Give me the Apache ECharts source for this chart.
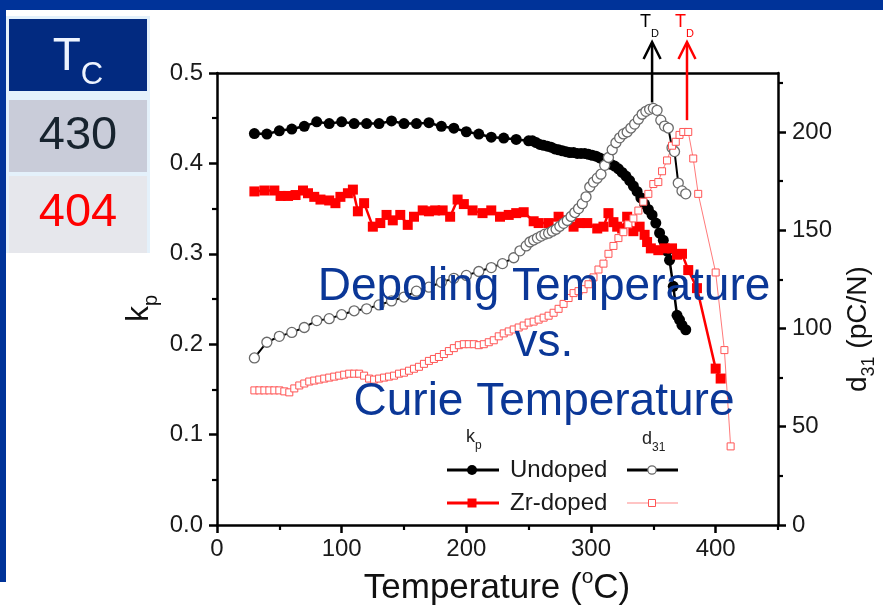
<!DOCTYPE html>
<html>
<head>
<meta charset="utf-8">
<script src="https://cdn.jsdelivr.net/npm/echarts@6/dist/echarts.min.js"></script>
<style>
  html, body { margin: 0; padding: 0; background: #fff; }
  #chart { width: 883px; height: 608px; }
</style>
</head>
<body>
<div id="chart"></div>
<script>
// ---- data: temperature (°C) against kp and d31 ----
const undopedKpT = [30,40,50,60,70,80,90,100,110,120,130,140,150,160,170,180,190,200,210,220,230,240,250,
  253,256,259,262,265,268,271,274,277,280,283,286,289,292,295,298,301,304,307,310,313,316,319,322,325,328,331,334,337,340,343,346,349,352,355,358,361,
  363,366,369,371,373,376];
const undopedKp = [0.433,0.4325,0.436,0.438,0.441,0.446,0.444,0.446,0.444,0.444,0.444,0.447,0.444,0.444,0.445,0.441,0.439,0.435,0.4325,0.429,0.428,0.4265,0.425,
  0.425,0.423,0.421,0.420,0.419,0.418,0.416,0.415,0.414,0.413,0.412,0.412,0.411,0.411,0.411,0.410,0.409,0.408,0.406,0.404,0.402,0.399,0.397,0.394,0.390,0.386,0.381,0.375,0.369,0.362,0.355,0.349,0.343,0.334,0.323,0.315,0.303,
  0.293,0.264,0.232,0.227,0.221,0.216];

const zrKpT = [30,38,46,51,57,63,69,73,78,83,90,95,99,105,109,113,118,125,131,136,141,147,153,158,165,170,175,181,187,193,
  198,205,213,220,227,234,240,246,254,258,266,274,278,286,291,297,305,310,314,318,321,325,329,334,339,343,345,348,354,359,
  365,369,373,378,385,400,404];
const zrKp = [0.369,0.370,0.370,0.364,0.364,0.365,0.370,0.367,0.363,0.360,0.359,0.356,0.363,0.367,0.371,0.347,0.356,0.330,0.334,0.343,
  0.337,0.343,0.332,0.341,0.348,0.347,0.348,0.348,0.341,0.360,0.355,0.348,0.345,0.348,0.341,0.343,0.345,0.346,0.336,0.334,
  0.334,0.341,0.337,0.330,0.334,0.334,0.328,0.330,0.345,0.335,0.330,0.328,0.341,0.325,0.330,0.321,0.313,0.306,0.304,0.306,
  0.306,0.299,0.300,0.282,0.262,0.173,0.162];

const undopedD31T = [30,40,50,60,70,80,90,100,110,120,130,140,150,160,170,180,190,200,210,220,229,238,243,248,
  251,254,257,260,263,266,269,272,275,278,281,284,287,290,293,296,299,302,305,308,311,314,317,320,323,326,329,332,335,338,341,344,347,350,353,356,359,362,
  365,367,370,373,376];
const undopedD31 = [85,93,96,98,100.5,104,105,107,109,110,112,114,116,119,121,123.5,125.5,127,129,131,133,136,139.5,142,
  144,145,146,147,148,148.5,149.5,150.5,152,153.5,155,157,159,161,163.5,167,172,174.5,176.5,178.5,183,187,191,194.5,197,199,200,202,204,206.5,209,210.5,211.5,212,211,206,203,202,
  192,190,174,170,168.5];

const zrD31T = [30,34,38,42,46,50,54,58,62,66,70,74,78,82,86,90,94,98,102,106,110,114,118,122,126,130,134,138,142,146,
  150,154,158,162,166,170,174,178,182,186,190,194,198,202,206,210,214,218,222,226,230,234,238,242,246,250,254,258,262,266,
  270,274,278,282,286,290,294,298,302,306,310,314,318,322,326,330,334,338,342,346,350,354,357,361,365,368,371,374,378,382,
  386,400,407,412];
const zrD31 = [68.5,68.5,68.5,68.5,68.5,68.5,68,67.5,69.5,71,72,73,73.5,74,74.5,75,75.5,76,76.5,77,77,77,76,74.5,74,74.5,75,75.5,76,77,
  77.5,78.5,79.5,80.5,82,83.5,84.5,85.5,87,88.5,90,91.5,92,92,92,91.5,92,93,94,96,97.5,98.5,99.5,100.5,101.5,103,103.5,104.5,105.5,106.5,
  108,110,112.5,115.5,118,119,120,122.5,126,130,133,138,142,146,149,153,156,160,164.5,168.5,173.5,174.5,180,185.5,193,195,198.5,200,200,186.5,
  168.5,128.5,89,40];

// ---- axes ----
const xMajorTicks = [0,100,200,300,400];
const xMinorTicks = [50,150,250,350,450];
const d31MajorTicks = [0,50,100,150,200];
const d31MinorTicks = [25,75,125,175,225];

// ---- annotations ----
const tdTemps = [349, 377];          // depoling temperature arrows (°C)
const tdArrowBase = [215, 206];      // arrow foot, in d31 units
const tdColors = ['#000000', '#ff0000'];
const tcHeader = ['T', 'C'];
const tcValues = ['430', '404'];
const tcColors = ['#17232e', '#ff0000'];
const overlayLines = ['Depoling Temperature', 'vs.', 'Curie Temperature'];
const legendNames = ['Undoped', 'Zr-doped'];

const FONT = '"Liberation Sans", Arial, Helvetica, sans-serif';
const pairs = (xs, ys) => xs.map((x, i) => [x, ys[i]]);

const chart = echarts.init(document.getElementById('chart'), null, { renderer: 'canvas' });

const axisLineStyle = { color: '#000', width: 2.5 };
const labelStyle = { fontFamily: FONT, fontSize: 24, color: '#1a1a1a' };

chart.setOption({
  animation: false,
  backgroundColor: '#ffffff',
  grid: { left: 217, right: 105, top: 73, bottom: 83, containLabel: false },
  xAxis: [
    {
      type: 'value', min: 0, max: 450, position: 'bottom',
      axisLine: { show: true, onZero: false, lineStyle: axisLineStyle },
      axisTick: { show: true, length: 8, lineStyle: { color: '#000', width: 2.5 }, customValues: xMajorTicks },
      axisLabel: Object.assign({ margin: 12, customValues: xMajorTicks }, labelStyle),
      splitLine: { show: false }
    },
    {
      type: 'value', min: 0, max: 450, position: 'bottom',
      axisLine: { show: false, onZero: false },
      axisTick: { show: true, length: 5, lineStyle: { color: '#000', width: 2.2 }, customValues: xMinorTicks },
      axisLabel: { show: false }, splitLine: { show: false }
    },
    {
      type: 'value', min: 0, max: 450, position: 'top',
      axisLine: { show: true, onZero: false, lineStyle: axisLineStyle },
      axisTick: { show: false }, axisLabel: { show: false }, splitLine: { show: false }
    }
  ],
  yAxis: [
    {
      type: 'value', min: 0, max: 0.5, interval: 0.1, position: 'left',
      axisLine: { show: true, onZero: false, lineStyle: axisLineStyle },
      axisTick: { show: true, length: 8, lineStyle: { color: '#000', width: 2.5 } },
      minorTick: { show: true, splitNumber: 2, length: 5, lineStyle: { color: '#000', width: 2.2 } },
      axisLabel: Object.assign({ margin: 14, formatter: v => v.toFixed(1) }, labelStyle),
      splitLine: { show: false }
    },
    {
      type: 'value', min: 0, max: 230, position: 'right',
      axisLine: { show: true, onZero: false, lineStyle: axisLineStyle },
      axisTick: { show: true, length: 8, lineStyle: { color: '#000', width: 2.5 }, customValues: d31MajorTicks },
      axisLabel: Object.assign({ margin: 14, customValues: d31MajorTicks }, labelStyle),
      splitLine: { show: false }
    },
    {
      type: 'value', min: 0, max: 230, position: 'right',
      axisLine: { show: false, onZero: false },
      axisTick: { show: true, length: 5, lineStyle: { color: '#000', width: 2.2 }, customValues: d31MinorTicks },
      axisLabel: { show: false }, splitLine: { show: false }
    }
  ],
  series: [
    {
      name: 'kp Undoped', type: 'line', xAxisIndex: 0, yAxisIndex: 0,
      data: pairs(undopedKpT, undopedKp),
      symbol: 'circle', symbolSize: 11, showAllSymbol: true,
      lineStyle: { color: '#000', width: 2.5 },
      itemStyle: { color: '#000' }
    },
    {
      name: 'kp Zr-doped', type: 'line', xAxisIndex: 0, yAxisIndex: 0,
      data: pairs(zrKpT, zrKp),
      symbol: 'rect', symbolSize: 10, showAllSymbol: true,
      lineStyle: { color: '#ff0000', width: 2.5 },
      itemStyle: { color: '#ff0000' }
    },
    {
      name: 'd31 Undoped', type: 'line', xAxisIndex: 0, yAxisIndex: 1,
      data: pairs(undopedD31T, undopedD31),
      symbol: 'circle', symbolSize: 10, showAllSymbol: true,
      lineStyle: { color: '#000', width: 2 },
      itemStyle: { color: '#ffffff', borderColor: '#6a6a6a', borderWidth: 1.3 }
    },
    {
      name: 'd31 Zr-doped', type: 'line', xAxisIndex: 0, yAxisIndex: 1,
      data: pairs(zrD31T, zrD31),
      symbol: 'rect', symbolSize: 7, showAllSymbol: true,
      lineStyle: { color: '#ff7a7a', width: 1 },
      itemStyle: { color: '#ffffff', borderColor: '#ff5555', borderWidth: 1 }
    }
  ]
});

// ---- text helpers ----
const measureCtx = document.createElement('canvas').getContext('2d');
function textWidth(t, size) {
  measureCtx.font = size + 'px ' + FONT;
  return measureCtx.measureText(t).width;
}
// A run of text pieces with their own sizes and vertical shifts, laid out left to right.
function textRun(parts, opts) {
  const widths = parts.map(p => textWidth(p.t, p.size));
  const total = widths.reduce((a, b) => a + b, 0);
  let cx = opts.align === 'center' ? -total / 2 : 0;
  const children = parts.map((p, i) => {
    const el = {
      type: 'text', x: cx, y: p.dy || 0, z: 120,
      style: {
        text: p.t, fontFamily: FONT, fontSize: p.size, fill: p.color || opts.color || '#000',
        align: 'left', verticalAlign: 'middle'
      }
    };
    cx += widths[i];
    return el;
  });
  return { type: 'group', x: opts.x, y: opts.y, rotation: opts.rotation || 0, children, z: 120 };
}

const elements = [];

// page frame
elements.push({ type: 'rect', shape: { x: 0, y: 0, width: 883, height: 10 }, style: { fill: '#003399' }, z: 1 });
elements.push({ type: 'rect', shape: { x: 0, y: 0, width: 6, height: 582 }, style: { fill: '#003399' }, z: 1 });

// Tc table
elements.push({ type: 'rect', shape: { x: 6, y: 16, width: 144, height: 237 }, style: { fill: '#e4f1fb' }, z: 1 });
elements.push({ type: 'rect', shape: { x: 9, y: 19, width: 138, height: 72 }, style: { fill: '#022a80' }, z: 2 });
elements.push({ type: 'rect', shape: { x: 9, y: 100, width: 138, height: 72 }, style: { fill: '#c9ccd9' }, z: 2 });
elements.push({ type: 'rect', shape: { x: 9, y: 176, width: 138, height: 77 }, style: { fill: '#e6e7ec' }, z: 2 });
elements.push(textRun([{ t: tcHeader[0], size: 46 }, { t: tcHeader[1], size: 31, dy: 18 }], { x: 78, y: 57, align: 'center', color: '#eef4ff' }));
tcValues.forEach((v, i) => {
  elements.push(textRun([{ t: v, size: 47 }], { x: 78, y: [136, 213][i], align: 'center', color: tcColors[i] }));
});

// axis names
elements.push(textRun([{ t: 'Temperature (', size: 35 }, { t: 'o', size: 21, dy: -11 }, { t: 'C)', size: 35 }],
  { x: 497, y: 588, align: 'center', color: '#111' }));
elements.push(textRun([{ t: 'k', size: 32 }, { t: 'p', size: 20, dy: 12 }],
  { x: 139, y: 322, rotation: Math.PI / 2, color: '#111' }));
elements.push(textRun([{ t: 'd', size: 28 }, { t: '31', size: 18, dy: 11 }, { t: ' (pC/N)', size: 28 }],
  { x: 858, y: 392, rotation: Math.PI / 2, color: '#111' }));

// overlay headline
overlayLines.forEach((t, i) => {
  elements.push(textRun([{ t, size: 46 }], { x: 544, y: [287, 343, 402][i], align: 'center', color: '#0b3797' }));
});

// legend
elements.push(textRun([{ t: 'k', size: 18 }, { t: 'p', size: 12, dy: 9 }], { x: 466, y: 437, color: '#222' }));
elements.push(textRun([{ t: 'd', size: 18 }, { t: '31', size: 12, dy: 9 }], { x: 642, y: 439, color: '#222' }));
const legendRows = [470, 503];
legendNames.forEach((name, i) => {
  const y = legendRows[i];
  const kpColor = i === 0 ? '#000' : '#ff0000';
  elements.push({ type: 'line', shape: { x1: 447, y1: y, x2: 499, y2: y }, style: { stroke: kpColor, lineWidth: 3 }, z: 100 });
  if (i === 0) {
    elements.push({ type: 'circle', shape: { cx: 472, cy: y, r: 5 }, style: { fill: '#000' }, z: 101 });
  } else {
    elements.push({ type: 'rect', shape: { x: 467.5, y: y - 4.5, width: 9, height: 9 }, style: { fill: '#ff0000' }, z: 101 });
  }
  elements.push(textRun([{ t: name, size: 24 }], { x: 510, y: y, color: '#1a1a1a' }));
  if (i === 0) {
    elements.push({ type: 'line', shape: { x1: 627, y1: y, x2: 678, y2: y }, style: { stroke: '#000', lineWidth: 3 }, z: 100 });
    elements.push({ type: 'circle', shape: { cx: 652, cy: y, r: 4.2 }, style: { fill: '#fff', stroke: '#6a6a6a', lineWidth: 1.2 }, z: 101 });
  } else {
    elements.push({ type: 'line', shape: { x1: 627, y1: y, x2: 678, y2: y }, style: { stroke: '#ff8a8a', lineWidth: 1.2 }, z: 100 });
    elements.push({ type: 'rect', shape: { x: 648.5, y: y - 3.5, width: 7, height: 7 }, style: { fill: '#fff', stroke: '#ff5555', lineWidth: 1 }, z: 101 });
  }
});

// depoling temperature arrows
tdTemps.forEach((td, i) => {
  const px = chart.convertToPixel({ xAxisIndex: 0 }, td);
  const py = chart.convertToPixel({ yAxisIndex: 1 }, tdArrowBase[i]);
  const c = tdColors[i];
  const tipY = 42;
  elements.push({ type: 'line', shape: { x1: px, y1: py, x2: px, y2: tipY + 1 }, style: { stroke: c, lineWidth: 2.5 }, z: 100 });
  elements.push({ type: 'polyline', shape: { points: [[px - 8.5, tipY + 17], [px, tipY], [px + 8.5, tipY + 17]] },
    style: { stroke: c, lineWidth: 2.5, fill: null }, z: 100 });
  elements.push(textRun([{ t: 'T', size: 18 }, { t: 'D', size: 11, dy: 12 }], { x: px - 12, y: 22, color: c }));
});

chart.setOption({ graphic: { elements } });
</script>
</body>
</html>
